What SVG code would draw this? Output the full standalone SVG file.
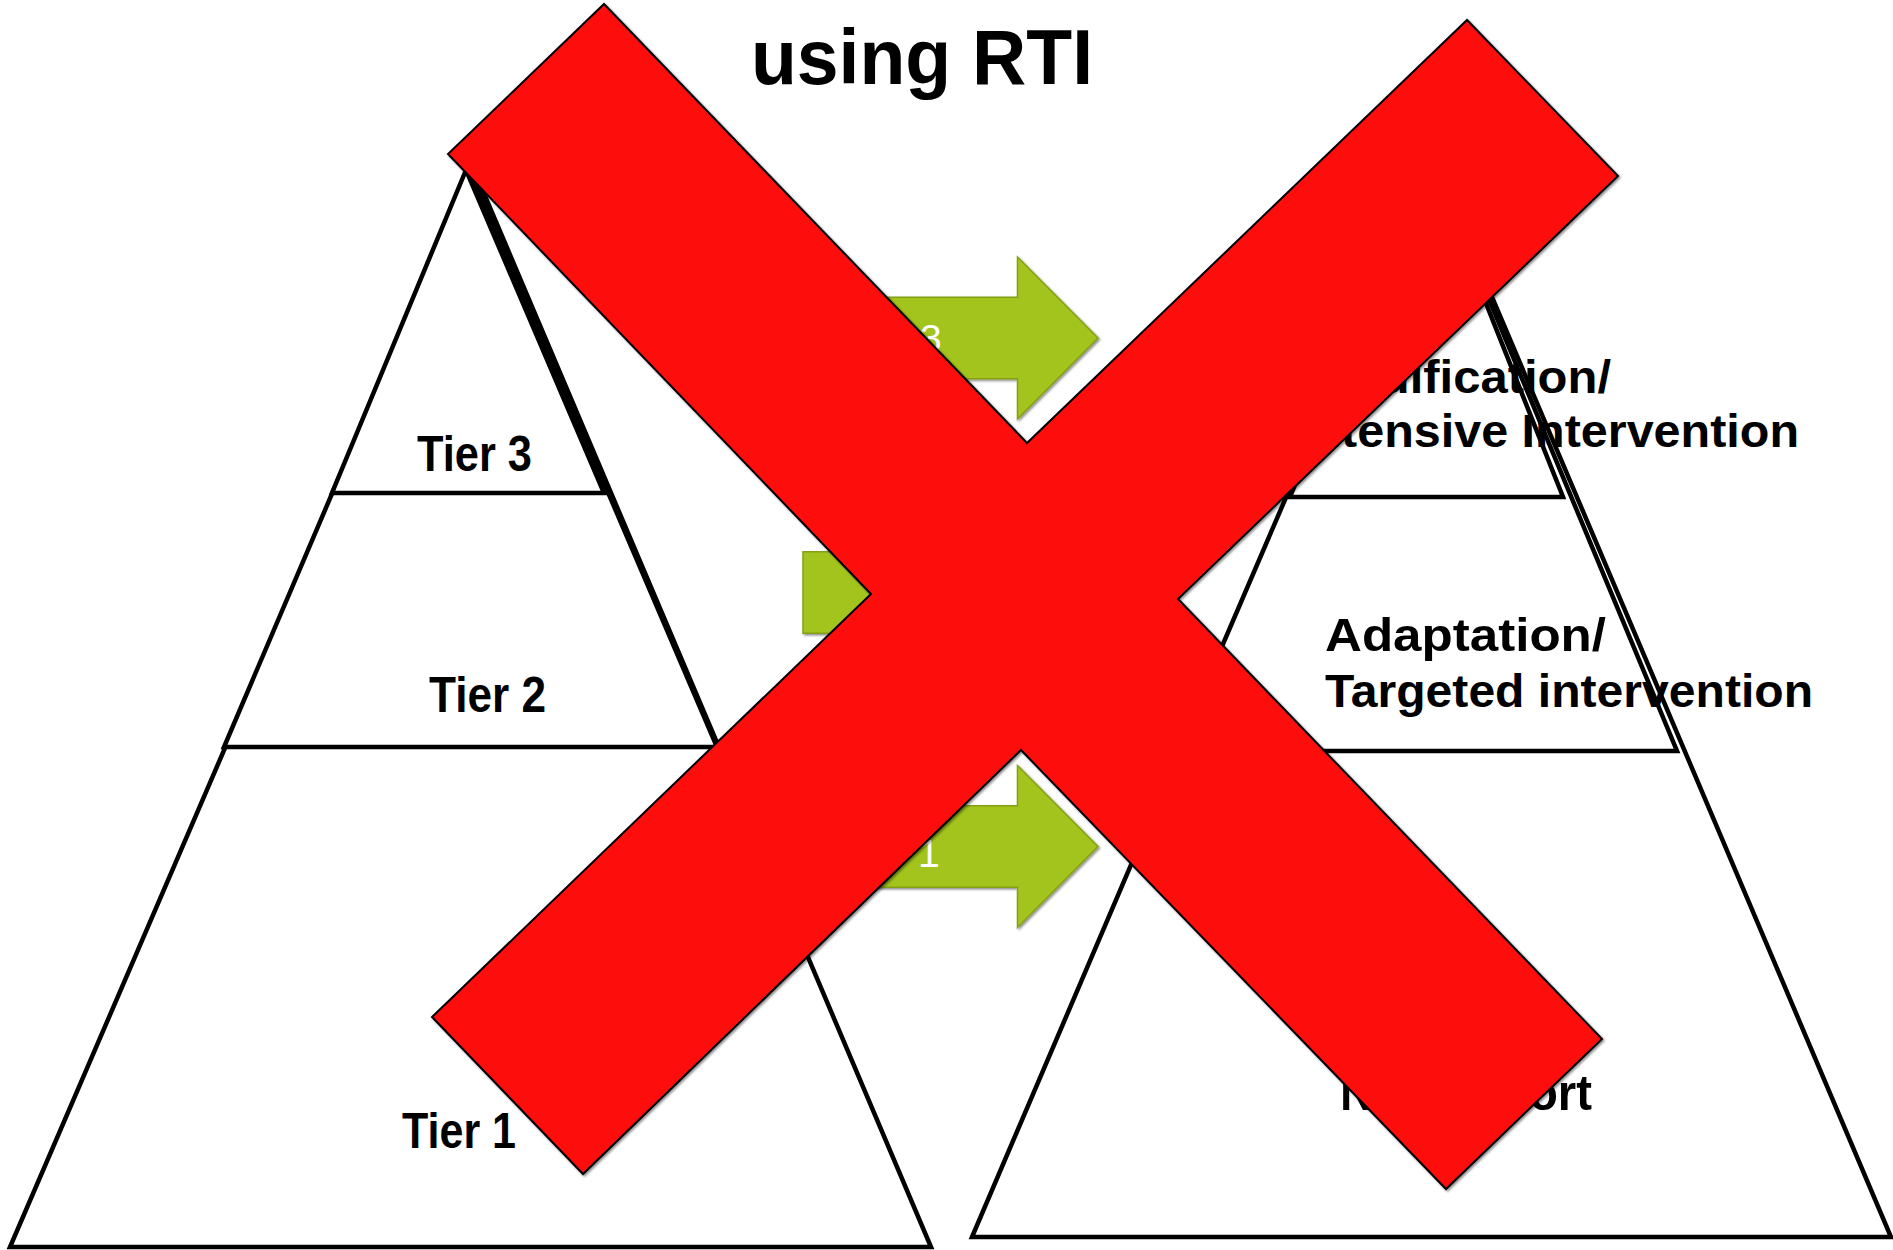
<svg xmlns="http://www.w3.org/2000/svg" xmlns:xlink="http://www.w3.org/1999/xlink" width="1893" height="1250" viewBox="0 0 1893 1250">
  <style>
    .tier { fill: #ffffff; stroke: #000000; stroke-width: 4.5; stroke-linejoin: miter; }
    .lbl { font-family: "Liberation Sans", Arial, sans-serif; font-weight: bold; fill: #000000; }
    .num { font-family: "Liberation Sans", Arial, sans-serif; font-weight: normal; fill: #ffffff; font-size: 39px; }
    .arrow { fill: #A3C41E; stroke: #84A012; stroke-width: 1.5; }
    .cross { fill: #FE0C0C; stroke: #000000; stroke-width: 2; stroke-linejoin: miter; }
  </style>
  <defs>
    <path id="arrowShape" d="M0,-40.8 H214.5 V-81 L295,0 L214.5,81 V40.8 H0 Z"/>
    <filter id="shadow" x="-5%" y="-5%" width="110%" height="110%">
      <feDropShadow dx="1.5" dy="1.5" stdDeviation="1.2" flood-color="#000000" flood-opacity="0.45"/>
    </filter>
  </defs>

  <rect x="0" y="0" width="1893" height="1250" fill="#ffffff"/>

  <!-- title -->
  <g id="title">
    <text class="lbl" x="751" y="84" font-size="78" textLength="342" lengthAdjust="spacingAndGlyphs">using RTI</text>
  </g>

  <!-- left pyramid: RTI tiers -->
  <g id="rti-pyramid">
    <g id="rti-tier1">
      <polygon class="tier" points="474,170 10,1247 931,1247"/>
      <text class="lbl" x="402" y="1148" font-size="50" textLength="114" lengthAdjust="spacingAndGlyphs">Tier 1</text>
    </g>
    <g id="rti-tier2">
      <polygon class="tier" points="470,170 224,747 717,747"/>
      <text class="lbl" x="429" y="712" font-size="50" textLength="117" lengthAdjust="spacingAndGlyphs">Tier 2</text>
    </g>
    <g id="rti-tier3">
      <polygon class="tier" points="466,170 332,493 604,493"/>
      <text class="lbl" x="417" y="471" font-size="50" textLength="115" lengthAdjust="spacingAndGlyphs">Tier 3</text>
    </g>
  </g>

  <!-- right pyramid: support levels -->
  <g id="support-pyramid">
    <g id="support-none">
      <polygon class="tier" points="1433,158 972,1237 1891,1237"/>
      <text class="lbl" x="1340" y="1110" font-size="50" textLength="252" lengthAdjust="spacingAndGlyphs">No support</text>
    </g>
    <g id="support-targeted">
      <polygon class="tier" points="1431,160 1177,751 1677,751"/>
      <text class="lbl" x="1325" y="651" font-size="46" textLength="281" lengthAdjust="spacingAndGlyphs">Adaptation/</text>
      <text class="lbl" x="1325" y="707" font-size="46" textLength="488" lengthAdjust="spacingAndGlyphs">Targeted intervention</text>
    </g>
    <g id="support-intensive">
      <polygon class="tier" points="1429,160 1290,497 1563,497"/>
      <text class="lbl" x="1309" y="393" font-size="46" textLength="302" lengthAdjust="spacingAndGlyphs">Modification/</text>
      <text class="lbl" x="1298" y="447" font-size="46" textLength="501" lengthAdjust="spacingAndGlyphs">Intensive Intervention</text>
    </g>
  </g>

  <!-- connectors: tier-to-support arrows -->
  <g id="connectors">
    <g id="arrow-tier3">
      <use xlink:href="#arrowShape" class="arrow" transform="translate(803,338)" filter="url(#shadow)"/>
      <text class="num" x="920" y="352">3</text>
    </g>
    <g id="arrow-tier2">
      <use xlink:href="#arrowShape" class="arrow" transform="translate(803,592.5)" filter="url(#shadow)"/>
    </g>
    <g id="arrow-tier1">
      <use xlink:href="#arrowShape" class="arrow" transform="translate(803,846.5)" filter="url(#shadow)"/>
      <text class="num" x="918" y="867">1</text>
    </g>
  </g>

  <!-- large red cross over everything -->
  <g id="cross">
    <polygon class="cross" filter="url(#shadow)" points="604,4 1027,443 1467,20 1618,176 1178,599 1602,1039 1446,1189 1021,750 583,1174 432,1017 871,594 448,154"/>
  </g>
</svg>
